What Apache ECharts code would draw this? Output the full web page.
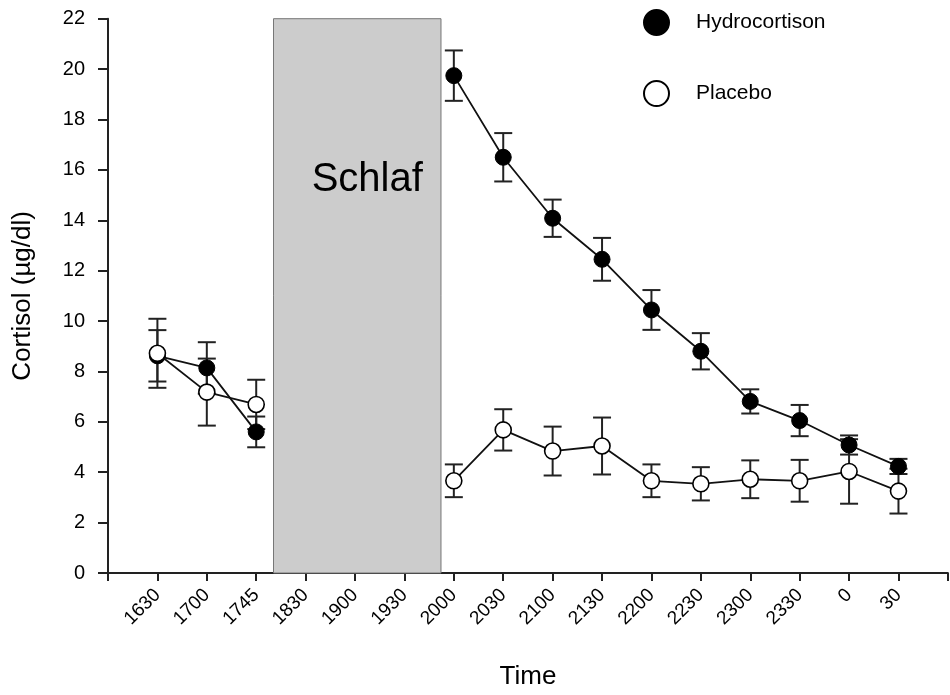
<!DOCTYPE html>
<html>
<head>
<meta charset="utf-8">
<script src="https://cdn.jsdelivr.net/npm/echarts@6/dist/echarts.min.js"></script>
<style>
  html, body { margin: 0; padding: 0; background: #fff; }
  #chart { width: 950px; height: 695px; }
</style>
</head>
<body>
<div id="chart"></div>
<script>
var categories = ['1630', '1700', '1745', '1830', '1900', '1930', '2000', '2030', '2100', '2130', '2200', '2230', '2300', '2330', '0', '30'];
var hydroMean = [8.62, 8.14, 5.6, null, null, null, 19.74, 16.5, 14.08, 12.45, 10.44, 8.8, 6.81, 6.05, 5.08, 4.23];
var hydroErr = [1.02, 1.02, 0.61, null, null, null, 1.0, 0.96, 0.74, 0.85, 0.79, 0.72, 0.48, 0.62, 0.38, 0.3];
var placeboMean = [8.72, 7.18, 6.69, null, null, null, 3.66, 5.68, 4.84, 5.04, 3.66, 3.54, 3.72, 3.66, 4.03, 3.25];
var placeboErr = [1.37, 1.33, 0.98, null, null, null, 0.65, 0.82, 0.97, 1.13, 0.65, 0.66, 0.75, 0.83, 1.28, 0.89];
var yTicks = [0, 22, 2];
// sleep period, in x-axis units (1 = first time point)
var sleepStart = 3.35;
var sleepEnd = 6.74;

var font = 'Liberation Sans, Arial, sans-serif';

function meanPoints(mean) {
  return mean.map(function (v, i) { return [i + 1, v]; });
}
function errPoints(mean, err) {
  var out = [];
  mean.forEach(function (v, i) {
    if (v == null) return;
    out.push([i + 1, v - err[i], v + err[i]]);
  });
  return out;
}
function errBar(params, api) {
  var lo = api.coord([api.value(0), api.value(1)]);
  var hi = api.coord([api.value(0), api.value(2)]);
  var w = 9;
  var st = { stroke: '#222', lineWidth: 2 };
  return {
    type: 'group',
    children: [
      { type: 'line', shape: { x1: lo[0], y1: lo[1], x2: hi[0], y2: hi[1] }, style: st },
      { type: 'line', shape: { x1: lo[0] - w, y1: lo[1], x2: lo[0] + w, y2: lo[1] }, style: st },
      { type: 'line', shape: { x1: hi[0] - w, y1: hi[1], x2: hi[0] + w, y2: hi[1] }, style: st }
    ]
  };
}

var chart = echarts.init(document.getElementById('chart'));
chart.setOption({
  animation: false,
  backgroundColor: '#fff',
  grid: { left: 108, top: 18.7, width: 850, height: 557.7 },
  legend: {
    orient: 'vertical',
    left: 638,
    top: 4,
    itemWidth: 25,
    itemHeight: 25,
    itemGap: 44,
    icon: 'circle',
    selectedMode: false,
    textStyle: { fontFamily: font, fontSize: 21, color: '#000', padding: [0, 0, 0, 22] },
    data: ['Hydrocortison', 'Placebo']
  },
  xAxis: {
    type: 'value',
    min: 0,
    max: 17,
    interval: 1,
    name: 'Time',
    nameLocation: 'middle',
    nameGap: 91,
    nameTextStyle: { fontFamily: font, fontSize: 26, color: '#000' },
    splitLine: { show: false },
    axisLine: { lineStyle: { color: '#222', width: 2 } },
    axisTick: { length: 8, lineStyle: { color: '#222', width: 2 } },
    axisLabel: {
      rotate: 45,
      margin: 19,
      fontFamily: font,
      fontSize: 19,
      color: '#000',
      formatter: function (v) {
        return categories[v - 1] || '';
      }
    }
  },
  yAxis: {
    type: 'value',
    min: yTicks[0],
    max: yTicks[1],
    interval: yTicks[2],
    name: 'Cortisol (µg/dl)',
    nameLocation: 'middle',
    nameGap: 72,
    nameTextStyle: { fontFamily: font, fontSize: 26, color: '#000' },
    splitLine: { show: false },
    axisLine: { show: true, lineStyle: { color: '#222', width: 2 } },
    axisTick: { show: true, length: 10, lineStyle: { color: '#222', width: 2 } },
    axisLabel: { margin: 23, fontFamily: font, fontSize: 20, color: '#000' }
  },
  series: [
    {
      name: 'sleep',
      type: 'line',
      data: [],
      silent: true,
      z: 1,
      markArea: {
        silent: true,
        itemStyle: { color: '#cccccc', borderColor: '#777', borderWidth: 1 },
        label: {
          show: true,
          position: 'inside',
          offset: [10, -116],
          fontFamily: font,
          fontSize: 40,
          color: '#000'
        },
        data: [[{ name: 'Schlaf', xAxis: sleepStart, yAxis: yTicks[0] }, { xAxis: sleepEnd, yAxis: yTicks[1] }]]
      }
    },
    {
      name: 'hydroErr',
      type: 'custom',
      renderItem: errBar,
      data: errPoints(hydroMean, hydroErr),
      silent: true,
      z: 2
    },
    {
      name: 'placeboErr',
      type: 'custom',
      renderItem: errBar,
      data: errPoints(placeboMean, placeboErr),
      silent: true,
      z: 2
    },
    {
      name: 'Hydrocortison',
      type: 'line',
      data: meanPoints(hydroMean),
      connectNulls: false,
      symbol: 'circle',
      symbolSize: 16,
      lineStyle: { color: '#111', width: 1.8 },
      itemStyle: { color: '#000', borderColor: '#000', borderWidth: 1 },
      z: 3
    },
    {
      name: 'Placebo',
      type: 'line',
      data: meanPoints(placeboMean),
      connectNulls: false,
      symbol: 'circle',
      symbolSize: 16,
      lineStyle: { color: '#111', width: 1.8 },
      itemStyle: { color: '#fff', borderColor: '#000', borderWidth: 1.6 },
      z: 4
    }
  ]
});
</script>
</body>
</html>
